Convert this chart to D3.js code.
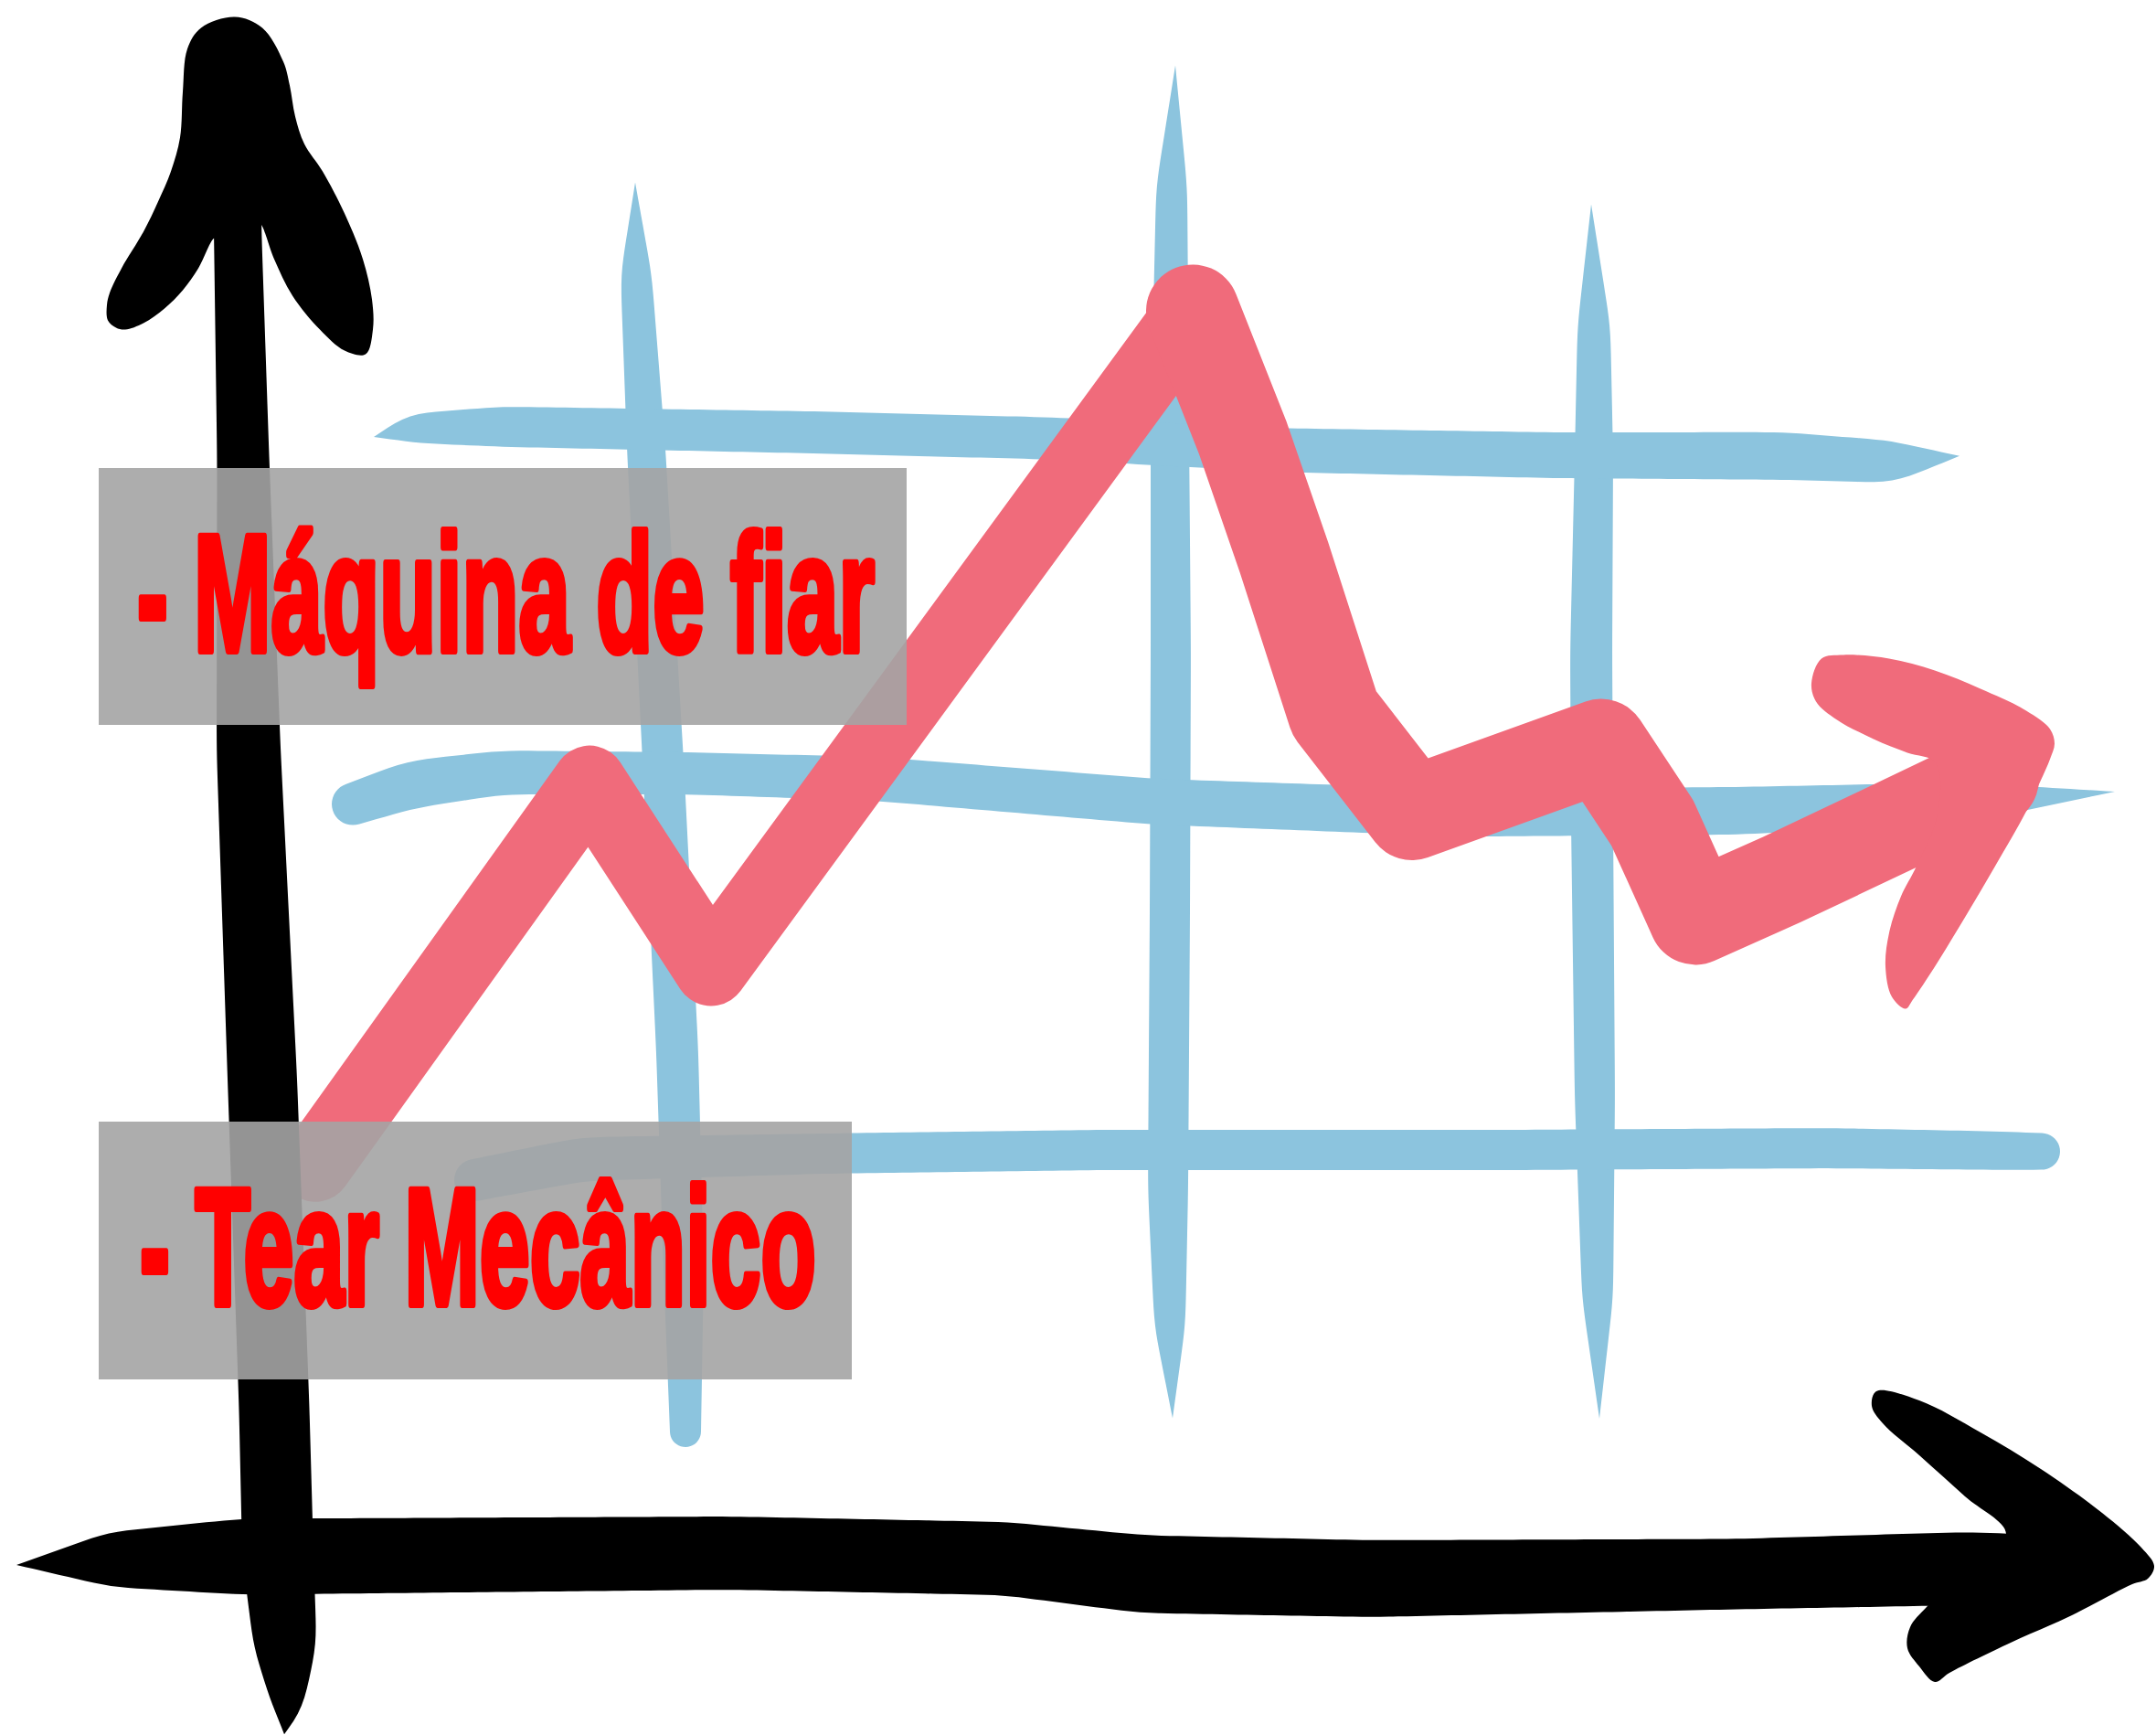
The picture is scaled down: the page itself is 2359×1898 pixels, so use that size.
<!DOCTYPE html>
<html>
<head>
<meta charset="utf-8">
<script src="https://cdn.jsdelivr.net/npm/d3@7"></script>
<style>
html,body{margin:0;padding:0;background:#ffffff;}
svg{display:block;}
text{font-variant-ligatures:none;font-feature-settings:"liga" 0;}
</style>
</head>
<body>
<svg id="chart" width="2359" height="1898"></svg>
<script>
// ================= DATA (chart units) =================
// Trend line (the red arrow)
const trend = [
  [0.375, 2.72], [1.875, 5.34], [2.54, 4.06], [5.175, 8.56],
  [5.45, 7.69], [5.675, 6.875], [5.95, 5.81], [6.375, 5.125],
  [7.41, 5.59], [7.69, 5.06], [7.925, 4.41], [8.4, 4.675],
  [9.05, 5.06], [9.55, 5.36]
];
// Legend / annotation labels
const labels = ["- Máquina de fiar", "- Tear Mecânico"];

// Hand-drawn grid strokes (centre lines)
const gridV1 = [[2.125,9.44],[2.13,8.81],[2.185,7.625],[2.28,5.425],[2.355,3.5],[2.39,2.0],[2.40,0.9]];
const gridV2 = [[5.08,10.24],[5.06,9.41],[5.05,7.75],[5.055,6.225],[5.05,4.44],[5.04,2.56],[5.05,1.625],[5.065,0.99]];
const gridV3 = [[7.355,9.29],[7.37,8.456],[7.37,7.5625],[7.355,6.225],[7.36,5.0625],[7.375,3.1875],[7.39,1.8125],[7.40,0.9875]];
const gridH1 = [[0.695,7.70],[0.9,7.76],[1.4,7.77],[3.15,7.73],[4.4,7.69],[5.65,7.61],[7.15,7.575],[8.4,7.57],[9.0,7.53],[9.37,7.57]];
const gridH2 = [[0.58,5.19],[0.905,5.325],[1.4,5.406],[2.41,5.4],[3.44,5.3625],[4.97,5.206],[6.65,5.13],[8.15,5.144],[9.4,5.2],[10.22,5.275]];
const gridH3 = [[1.25,2.62],[1.84,2.7625],[3.15,2.80],[4.65,2.825],[6.9,2.825],[8.65,2.8375],[9.6,2.82],[9.82,2.815]];

// Hand-drawn axes (centre lines)
const axisY  = [[-0.06,10.06],[-0.05,9.125],[-0.02,7.5625],[0.01,5.5625],[0.085,3.3125],[0.15,1.0625],[0.17,0.0625],[0.21,-0.5625],[0.225,-0.98],[0.205,-1.17]];
const axisX  = [[-1.26,-0.0125],[-0.75,0.025],[-0.025,0.044],[2.65,0.069],[4.15,0.031],[4.9,-0.075],[6.15,-0.106],[8.15,-0.075],[9.4,-0.0375],[10.1,-0.025]];

// ================= STYLE =================
const W = 2359, H = 1898;
const BLUE = "#8cc4de", RED = "#f06b7b", BLACK = "#000000";
const brushStyle = {
  gridV1: { w: [0,34,42,45,46,44,34], caps: [0, 0.5] },
  gridV2: { w: [0,34,42,44,44,44,34,0], caps: [0, 0] },
  gridV3: { w: [0,36,42,46,46,44,34,0], caps: [0, 0] },
  gridH1: { w: [0,32,44,46,46,48,50,52,46,0], caps: [0, 0] },
  gridH2: { w: [46,52,48,46,48,50,52,52,44,0], caps: [0.5, 0] },
  gridH3: { w: [46,48,44,44,44,44,42,40], caps: [0.5, 0.5] },
  axisY: { w: [56,52,57,70,76,77,78,69,34,0], caps: [0, 0] },
  axisX: { w: [0,60,83,80,80,85,84,77,80,66], caps: [0, 0.3] }
};
// Arrow-head outlines (pixel offsets from the end of the stroke they finish)
const headYShape = [[-23,160],[-41,193],[-58,217],[-78,237],[-101,253],[-121,260],[-131,258],[-140,250],[-141,233],
  [-138,220],[-125,193],[-101,153],[-85,120],[-71,87],[-61,50],[-58,0],[-53,-47],[-38,-70],[-1,-82],[29,-70],
  [52,-33],[59,-7],[65,27],[75,57],[95,87],[119,133],[139,183],[149,227],[150,260],[142,287],[119,283],
  [92,260],[62,223],[42,183],[27,145],[24,220],[-18,220]];
const headXShape = [[-237,-192],[-190,-182],[-123,-147],[-57,-107],[10,-59],[53,-21],[67,-1],[60,13],[43,19],
  [-23,53],[-90,83],[-157,116],[-173,126],[-190,109],[-203,89],[-200,66],[-182,44],[-140,6],[-95,-36],
  [-140,-77],[-190,-122],[-230,-157],[-242,-176]];
const headRedShape = [[-187,-132],[-163,-136],[-113,-132],[-63,-119],[-13,-99],[37,-75],[63,-55],[68,-39],[63,-22],
  [53,1],[37,35],[3,95],[-30,151],[-63,205],[-87,241],[-95,251],[-110,238],[-117,205],[-113,168],[-100,128],
  [-83,95],[-60,38],[-62,-18],[-93,-29],[-130,-44],[-170,-65],[-193,-85],[-198,-105]];

// ================= SCALES =================
const x = d3.scaleLinear().domain([0, 10]).range([270, 2270]);
const y = d3.scaleLinear().domain([0, 10]).range([1710, 110]);

const svg = d3.select("#chart").attr("viewBox", `0 0 ${W} ${H}`);
svg.append("rect").attr("width", W).attr("height", H).attr("fill", "#ffffff");

// brush-stroke outline from a centre line and a width profile (for tapered strokes)
function brush(pts, ws, capS = 0.5, capE = 0.5, step = 10) {
  let S = [], Wd = [];
  for (let i = 0; i < pts.length - 1; i++) {
    const a = pts[i], b = pts[i + 1];
    const len = Math.hypot(b[0] - a[0], b[1] - a[1]);
    const k = Math.max(1, Math.ceil(len / step));
    for (let j = 0; j < k; j++) {
      const t = j / k;
      S.push([a[0] + (b[0] - a[0]) * t, a[1] + (b[1] - a[1]) * t]);
      Wd.push(ws[i] + (ws[i + 1] - ws[i]) * t);
    }
  }
  S.push(pts[pts.length - 1].slice()); Wd.push(ws[ws.length - 1]);
  const m = S.length;
  for (let pass = 0; pass < 6; pass++) {
    const S2 = S.map(p => p.slice()), W2 = Wd.slice();
    for (let i = 1; i < m - 1; i++) {
      S2[i] = [(S[i - 1][0] + 2 * S[i][0] + S[i + 1][0]) / 4, (S[i - 1][1] + 2 * S[i][1] + S[i + 1][1]) / 4];
      W2[i] = (Wd[i - 1] + 2 * Wd[i] + Wd[i + 1]) / 4;
    }
    S = S2; Wd = W2;
  }
  const T = [];
  for (let i = 0; i < m; i++) {
    const a = S[Math.max(i - 1, 0)], b = S[Math.min(i + 1, m - 1)];
    const dx = b[0] - a[0], dy = b[1] - a[1], l = Math.hypot(dx, dy) || 1;
    T.push([dx / l, dy / l]);
  }
  const L = [], R = [];
  for (let i = 0; i < m; i++) {
    const h = Wd[i] / 2, nx = -T[i][1], ny = T[i][0];
    L.push([S[i][0] + nx * h, S[i][1] + ny * h]);
    R.push([S[i][0] - nx * h, S[i][1] - ny * h]);
  }
  const arc = (c, t, h, ext, sign) => {
    const out = [], nx = -t[1], ny = t[0];
    for (let j = 1; j < 20; j++) {
      const th = Math.PI * j / 20;
      out.push([c[0] + sign * (nx * h * Math.cos(th) + t[0] * ext * Math.sin(th)),
                c[1] + sign * (ny * h * Math.cos(th) + t[1] * ext * Math.sin(th))]);
    }
    return out;
  };
  const endCap = Wd[m - 1] > 0 ? arc(S[m - 1], T[m - 1], Wd[m - 1] / 2, Wd[m - 1] * capE, 1) : [];
  const startCap = Wd[0] > 0 ? arc(S[0], T[0], Wd[0] / 2, Wd[0] * capS, -1) : [];
  const outline = [...L, ...endCap, ...R.reverse(), ...startCap];
  return d3.line()(outline) + "Z";
}
const px = arr => arr.map(d => [x(d[0]), y(d[1])]);
const drawBrush = (g, name, arr) => {
  const st = brushStyle[name];
  g.append("path").attr("d", brush(px(arr), st.w, st.caps[0], st.caps[1]));
};
const blob = d3.line().curve(d3.curveCatmullRomClosed.alpha(0.5));
const headAt = (shape, ax, ay) => blob(shape.map(o => [ax + o[0], ay + o[1]]));

// ---- blue grid ----
const gGrid = svg.append("g").attr("fill", BLUE);
drawBrush(gGrid, "gridV1", gridV1);
drawBrush(gGrid, "gridV2", gridV2);
drawBrush(gGrid, "gridV3", gridV3);
drawBrush(gGrid, "gridH1", gridH1);
drawBrush(gGrid, "gridH2", gridH2);
drawBrush(gGrid, "gridH3", gridH3);

// ---- red trend arrow ----
const gRed = svg.append("g");
const line = d3.line().x(d => x(d[0])).y(d => y(d[1])).curve(d3.curveLinear);
gRed.append("path").datum(trend.slice(0, 4)).attr("d", line)
  .attr("fill", "none").attr("stroke", RED).attr("stroke-width", 80)
  .attr("stroke-linejoin", "round").attr("stroke-linecap", "round");
gRed.append("path").datum(trend.slice(3)).attr("d", line)
  .attr("fill", "none").attr("stroke", RED).attr("stroke-width", 102)
  .attr("stroke-linejoin", "round").attr("stroke-linecap", "round");
const last = trend[trend.length - 1];
gRed.append("path").attr("d", headAt(headRedShape, x(last[0]), y(last[1]))).attr("fill", RED);

// ---- black axes ----
const gAx = svg.append("g").attr("fill", BLACK);
drawBrush(gAx, "axisY", axisY);
drawBrush(gAx, "axisX", axisX);
gAx.append("path").attr("d", headAt(headYShape, x(axisY[0][0]), y(axisY[0][1])));
const xEnd = axisX[axisX.length - 1];
gAx.append("path").attr("d", headAt(headXShape, x(xEnd[0]), y(xEnd[1])));

// ---- label boxes ----
const boxes = [
  { x: 108, y: 512, w: 884, h: 281, tx: 150, ty: 712, tl: 807 },
  { x: 108, y: 1227, w: 824, h: 282, tx: 153, ty: 1427, tl: 740 }
];
const gLab = svg.append("g");
labels.forEach((t, i) => {
  const b = boxes[i];
  gLab.append("rect").attr("x", b.x).attr("y", b.y).attr("width", b.w).attr("height", b.h)
    .attr("fill", "rgb(164,164,164)").attr("fill-opacity", 0.9);
  gLab.append("text").attr("x", b.tx).attr("y", b.ty)
    .attr("textLength", b.tl).attr("lengthAdjust", "spacingAndGlyphs")
    .attr("font-family", "'Liberation Sans',Arial,sans-serif")
    .attr("font-weight", "bold").attr("font-size", 182)
    .attr("fill", "#ff0000").attr("stroke", "#ff0000").attr("stroke-width", 8)
    .attr("stroke-linejoin", "round")
    .text(t);
});
</script>
</body>
</html>
